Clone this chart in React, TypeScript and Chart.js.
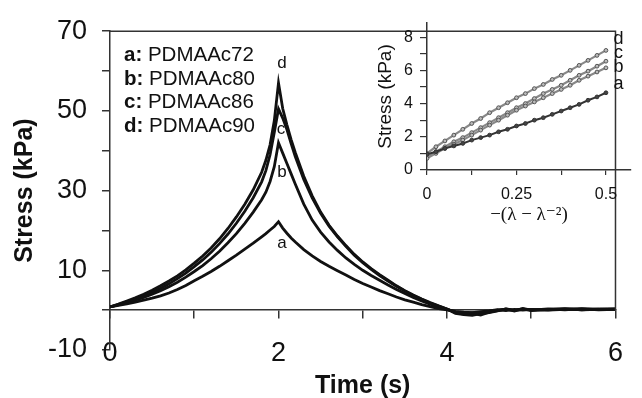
import React, { useEffect, useRef } from 'react';
import { Chart, registerables } from 'chart.js';

Chart.register(...registerables);

// ---------- main chart data ----------
const times = [0, 0.1, 0.2, 0.3, 0.4, 0.5, 0.6, 0.7, 0.8, 0.9, 1.0, 1.1, 1.2, 1.3, 1.4, 1.5, 1.6, 1.7, 1.8, 1.85, 1.9, 1.95, 2.0,
  2.05, 2.1, 2.15, 2.2, 2.3, 2.4, 2.5, 2.6, 2.7, 2.8, 2.9, 3.0, 3.1, 3.2, 3.3, 3.4, 3.5, 3.6, 3.7, 3.8, 3.9, 4.0,
  4.1, 4.2, 4.3, 4.4, 4.5, 4.6, 4.7, 4.8, 4.9, 5.0, 5.2, 5.4, 5.6, 5.8, 6.0];

const stressA = [0.8, 1.2, 1.6, 2.0, 2.5, 3.0, 3.6, 4.3, 5.2, 6.2, 7.4, 8.5, 9.7, 11.0, 12.4, 13.8, 15.3, 16.8, 18.4, 19.2, 20.1, 21.0, 22.2,
  20.6, 19.3, 18.1, 17.1, 15.2, 13.6, 12.2, 11.0, 9.9, 8.8, 7.7, 6.7, 5.8, 4.9, 4.1, 3.3, 2.6, 2.0, 1.4, 0.9, 0.4, 0.1,
  -0.3, -0.5, -0.6, -0.4, -0.2, 0.1, -0.1, 0.2, 0, 0.2, 0.1, 0.3, 0.1, 0.2, 0.3];
const stressB = [0.8, 1.3, 1.9, 2.5, 3.2, 4.0, 4.9, 5.9, 7.0, 8.3, 9.7, 11.2, 12.9, 14.8, 16.9, 19.2, 21.8, 24.6, 27.7, 29.6, 32.3, 36.0, 42.0,
  39.4, 36.8, 34.2, 31.6, 26.6, 22.6, 19.6, 17.1, 15.0, 13.1, 11.5, 10.0, 8.7, 7.5, 6.3, 5.2, 4.2, 3.2, 2.3, 1.5, 0.8, 0.2,
  -0.5, -0.8, -0.6, -0.9, -0.4, 0, 0.2, -0.1, 0.2, 0.1, 0, 0.2, 0.3, 0.1, 0.2];
const stressC = [0.8, 1.4, 2.1, 2.8, 3.6, 4.5, 5.5, 6.6, 7.9, 9.3, 10.9, 12.6, 14.5, 16.7, 19.1, 21.8, 24.8, 28.2, 32.2, 35.0, 39.0, 44.6, 50.5,
  48.2, 45.3, 41.8, 38.5, 32.8, 28.2, 24.3, 21.1, 18.4, 16.0, 13.8, 11.9, 10.2, 8.7, 7.3, 6.0, 4.8, 3.7, 2.7, 1.8, 1.0, 0.3,
  -0.6, -1.0, -0.8, -1.2, -0.5, -0.1, 0.3, 0, 0.3, -0.1, 0.2, 0.4, 0.1, 0.3, 0.2];
const stressD = [0.8, 1.5, 2.3, 3.1, 4.0, 5.0, 6.1, 7.3, 8.6, 10.1, 11.8, 13.6, 15.6, 17.9, 20.5, 23.4, 26.6, 30.2, 34.6, 37.6, 41.5, 47.5, 57.0,
  50.6, 46.5, 42.8, 39.5, 33.6, 28.7, 24.6, 21.3, 18.6, 16.2, 14.0, 12.1, 10.4, 8.9, 7.5, 6.1, 4.9, 3.8, 2.8, 1.9, 1.1, 0.3,
  -0.8, -1.1, -1.3, -0.9, -0.6, -0.2, 0.3, -0.2, 0.4, 0, 0.3, 0.1, 0.4, 0.2, 0.3];

const seriesTags = ['a', 'b', 'c', 'd'];
const sampleNames = ['PDMAAc72', 'PDMAAc80', 'PDMAAc86', 'PDMAAc90'];

// ---------- inset data ----------
const insetStrain = [0, 0.025, 0.05, 0.075, 0.1, 0.125, 0.15, 0.175, 0.2, 0.225, 0.25, 0.275, 0.3, 0.325, 0.35, 0.375, 0.4, 0.425, 0.45, 0.475, 0.5];
const insetA = [0.95, 1.1, 1.3, 1.45, 1.6, 1.8, 1.95, 2.1, 2.3, 2.45, 2.65, 2.8, 3.0, 3.15, 3.35, 3.55, 3.75, 3.95, 4.2, 4.4, 4.65];
const insetB = [0.7, 1.0, 1.3, 1.55, 1.8, 2.1, 2.4, 2.7, 3.0, 3.3, 3.6, 3.85, 4.1, 4.35, 4.6, 4.85, 5.1, 5.4, 5.65, 5.9, 6.15];
const insetC = [0.8, 1.1, 1.4, 1.7, 1.95, 2.25, 2.55, 2.85, 3.15, 3.45, 3.75, 4.0, 4.3, 4.6, 4.85, 5.1, 5.4, 5.7, 5.95, 6.25, 6.55];
const insetD = [1.0, 1.4, 1.75, 2.1, 2.45, 2.8, 3.1, 3.45, 3.75, 4.05, 4.35, 4.6, 4.9, 5.15, 5.45, 5.7, 6.0, 6.3, 6.6, 6.9, 7.2];

const SANS = '"Liberation Sans", Arial, Helvetica, sans-serif';
const SERIF = '"Liberation Serif", "DejaVu Serif", "Times New Roman", serif';
const INK = '#111';
const AXIS = '#333';

export default function App() {
  const mainRef = useRef<HTMLCanvasElement>(null);
  const insetRef = useRef<HTMLCanvasElement>(null);

  useEffect(() => {
    const mainSeries = [stressA, stressB, stressC, stressD];
    const toPts = (ys: number[]) => times.map((t, i) => ({ x: t, y: ys[i] }));

    // label anchors in data units (time, stress)
    const tagAnchorsMain = [
      { x: 2.04, y: 16.8 },
      { x: 2.04, y: 34.5 },
      { x: 2.03, y: 45.3 },
      { x: 2.04, y: 62 },
    ];

    const mainDecor = {
      id: 'mainDecor',
      afterDraw(chart: any) {
        const { ctx, chartArea: ca, scales } = chart;
        const y0 = scales.y.getPixelForValue(0);
        ctx.save();
        ctx.strokeStyle = AXIS;
        ctx.lineWidth = 1.5;
        ctx.beginPath();
        ctx.moveTo(ca.left, ca.top);
        ctx.lineTo(ca.right, ca.top);
        ctx.lineTo(ca.right, y0);
        ctx.stroke();

        ctx.fillStyle = INK;
        ctx.textAlign = 'center';
        ctx.textBaseline = 'middle';
        ctx.font = `17px ${SANS}`;
        seriesTags.forEach((tag, i) => {
          const p = tagAnchorsMain[i];
          ctx.fillText(tag, scales.x.getPixelForValue(p.x), scales.y.getPixelForValue(p.y));
        });

        ctx.textAlign = 'left';
        ctx.textBaseline = 'alphabetic';
        seriesTags.forEach((tag, i) => {
          const x = ca.left + 14;
          const y = ca.top + 30 + i * 23.5;
          ctx.font = `bold 20.5px ${SANS}`;
          const head = `${tag}:`;
          ctx.fillText(head, x, y);
          const w = ctx.measureText(head).width;
          ctx.font = `20.5px ${SANS}`;
          ctx.fillText(' ' + sampleNames[i], x + w, y);
        });
        ctx.restore();
      },
    };

    const main = new Chart(mainRef.current as HTMLCanvasElement, {
      type: 'line',
      data: {
        datasets: mainSeries.map((s, i) => ({
          label: seriesTags[i],
          data: toPts(s),
          borderColor: INK,
          borderWidth: 2.8,
          pointRadius: 0,
          fill: false,
          tension: 0,
        })),
      },
      options: {
        animation: false,
        responsive: false,
        layout: { padding: { left: 0, top: 24, right: 11, bottom: 48 } },
        plugins: { legend: { display: false }, tooltip: { enabled: false } },
        scales: {
          x: {
            type: 'linear',
            position: { y: 0 } as any,
            min: 0,
            max: 6,
            afterFit: (s: any) => { s.height = 91; },
            ticks: {
              stepSize: 1,
              autoSkip: false,
              maxRotation: 0,
              padding: 19,
              color: INK,
              font: { family: SANS, size: 27 },
              callback: (v: any) => (Number(v) % 2 === 0 ? String(v) : ''),
            },
            grid: { drawOnChartArea: false, tickLength: 8, color: AXIS, lineWidth: 1.5 },
            border: { color: AXIS, width: 1.5 },
            title: {
              display: true,
              text: 'Time (s)',
              color: INK,
              font: { family: SANS, size: 25, weight: 'bold' },
              padding: { top: 0, bottom: 0 },
            },
          },
          y: {
            type: 'linear',
            min: -10,
            max: 70,
            afterFit: (s: any) => { s.width = 110; },
            ticks: {
              stepSize: 10,
              autoSkip: false,
              padding: 15,
              color: INK,
              font: { family: SANS, size: 27 },
              callback: (v: any) => ((Number(v) + 10) % 20 === 0 ? String(v) : ''),
            },
            grid: { drawOnChartArea: false, tickLength: 8, color: AXIS, lineWidth: 1.5 },
            border: { color: AXIS, width: 1.5 },
            title: {
              display: true,
              text: 'Stress (kPa)',
              color: INK,
              font: { family: SANS, size: 25, weight: 'bold' },
              padding: { top: 10, bottom: 0 },
            },
          },
        },
      },
      plugins: [mainDecor],
    } as any);

    // ---------- inset ----------
    const insetSeries = [insetA, insetB, insetC, insetD];
    const tagAnchorsInset = [
      { x: 0.535, y: 5.2 },
      { x: 0.535, y: 6.2 },
      { x: 0.535, y: 7.05 },
      { x: 0.535, y: 7.9 },
    ];
    const insetDecor = {
      id: 'insetDecor',
      afterDraw(chart: any) {
        const { ctx, scales } = chart;
        ctx.save();
        ctx.fillStyle = INK;
        ctx.textAlign = 'center';
        ctx.textBaseline = 'middle';
        ctx.font = `18px ${SANS}`;
        seriesTags.forEach((tag, i) => {
          const p = tagAnchorsInset[i];
          ctx.fillText(tag, scales.x.getPixelForValue(p.x), scales.y.getPixelForValue(p.y));
        });
        ctx.restore();
      },
    };

    const inset = new Chart(insetRef.current as HTMLCanvasElement, {
      type: 'line',
      data: {
        datasets: insetSeries.map((s, i) => ({
          label: seriesTags[i],
          data: insetStrain.map((x, j) => ({ x, y: s[j] })),
          borderColor: i === 0 ? '#333' : '#888',
          borderWidth: i === 0 ? 2 : 2.2,
          pointRadius: 1.9,
          pointBorderWidth: 1,
          pointBorderColor: i === 0 ? '#333' : '#555',
          pointBackgroundColor: i === 0 ? '#444' : '#bbb',
          fill: false,
          tension: 0,
        })),
      },
      options: {
        animation: false,
        responsive: false,
        layout: { padding: { left: 0, top: 23, right: 11, bottom: 0 } },
        plugins: { legend: { display: false }, tooltip: { enabled: false } },
        scales: {
          x: {
            type: 'linear',
            min: 0,
            max: 0.57,
            afterFit: (s: any) => { s.height = 65; },
            ticks: {
              stepSize: 0.125,
              includeBounds: false,
              autoSkip: false,
              maxRotation: 0,
              padding: 10,
              color: INK,
              font: { family: SANS, size: 16 },
              callback: (v: any) => {
                const n = Number(v);
                return Math.abs(n * 4 - Math.round(n * 4)) < 1e-6 ? String(n) : '';
              },
            },
            grid: { drawOnChartArea: false, tickLength: 5, color: AXIS, lineWidth: 1.2 },
            border: { color: AXIS, width: 1.5 },
            title: {
              display: true,
              text: '\u2212(\u03bb \u2212 \u03bb\u207b\u00b2)',
              color: INK,
              font: { family: SERIF, size: 19 },
              padding: { top: 0, bottom: 9 },
            },
          },
          y: {
            type: 'linear',
            min: 0,
            max: 8.85,
            afterFit: (s: any) => { s.width = 57; },
            ticks: {
              stepSize: 1,
              includeBounds: false,
              autoSkip: false,
              padding: 7,
              color: INK,
              font: { family: SANS, size: 16 },
              callback: (v: any) => (Number(v) % 2 === 0 ? String(v) : ''),
            },
            grid: { drawOnChartArea: false, tickLength: 7, color: AXIS, lineWidth: 1.2 },
            border: { color: AXIS, width: 1.5 },
            title: {
              display: true,
              text: 'Stress (kPa)',
              color: INK,
              font: { family: SANS, size: 19 },
              padding: { top: 4, bottom: 0 },
            },
          },
        },
      },
      plugins: [insetDecor],
    } as any);

    return () => {
      main.destroy();
      inset.destroy();
    };
  }, []);

  return (
    <div style={{ position: 'fixed', left: 0, top: 0, width: 642, height: 398, background: '#fff' }}>
      <canvas ref={mainRef} width={642} height={398} style={{ position: 'absolute', left: 0, top: 0, display: 'block' }} />
      <canvas ref={insetRef} width={272} height={235} style={{ position: 'absolute', left: 370, top: 0, display: 'block' }} />
    </div>
  );
}
